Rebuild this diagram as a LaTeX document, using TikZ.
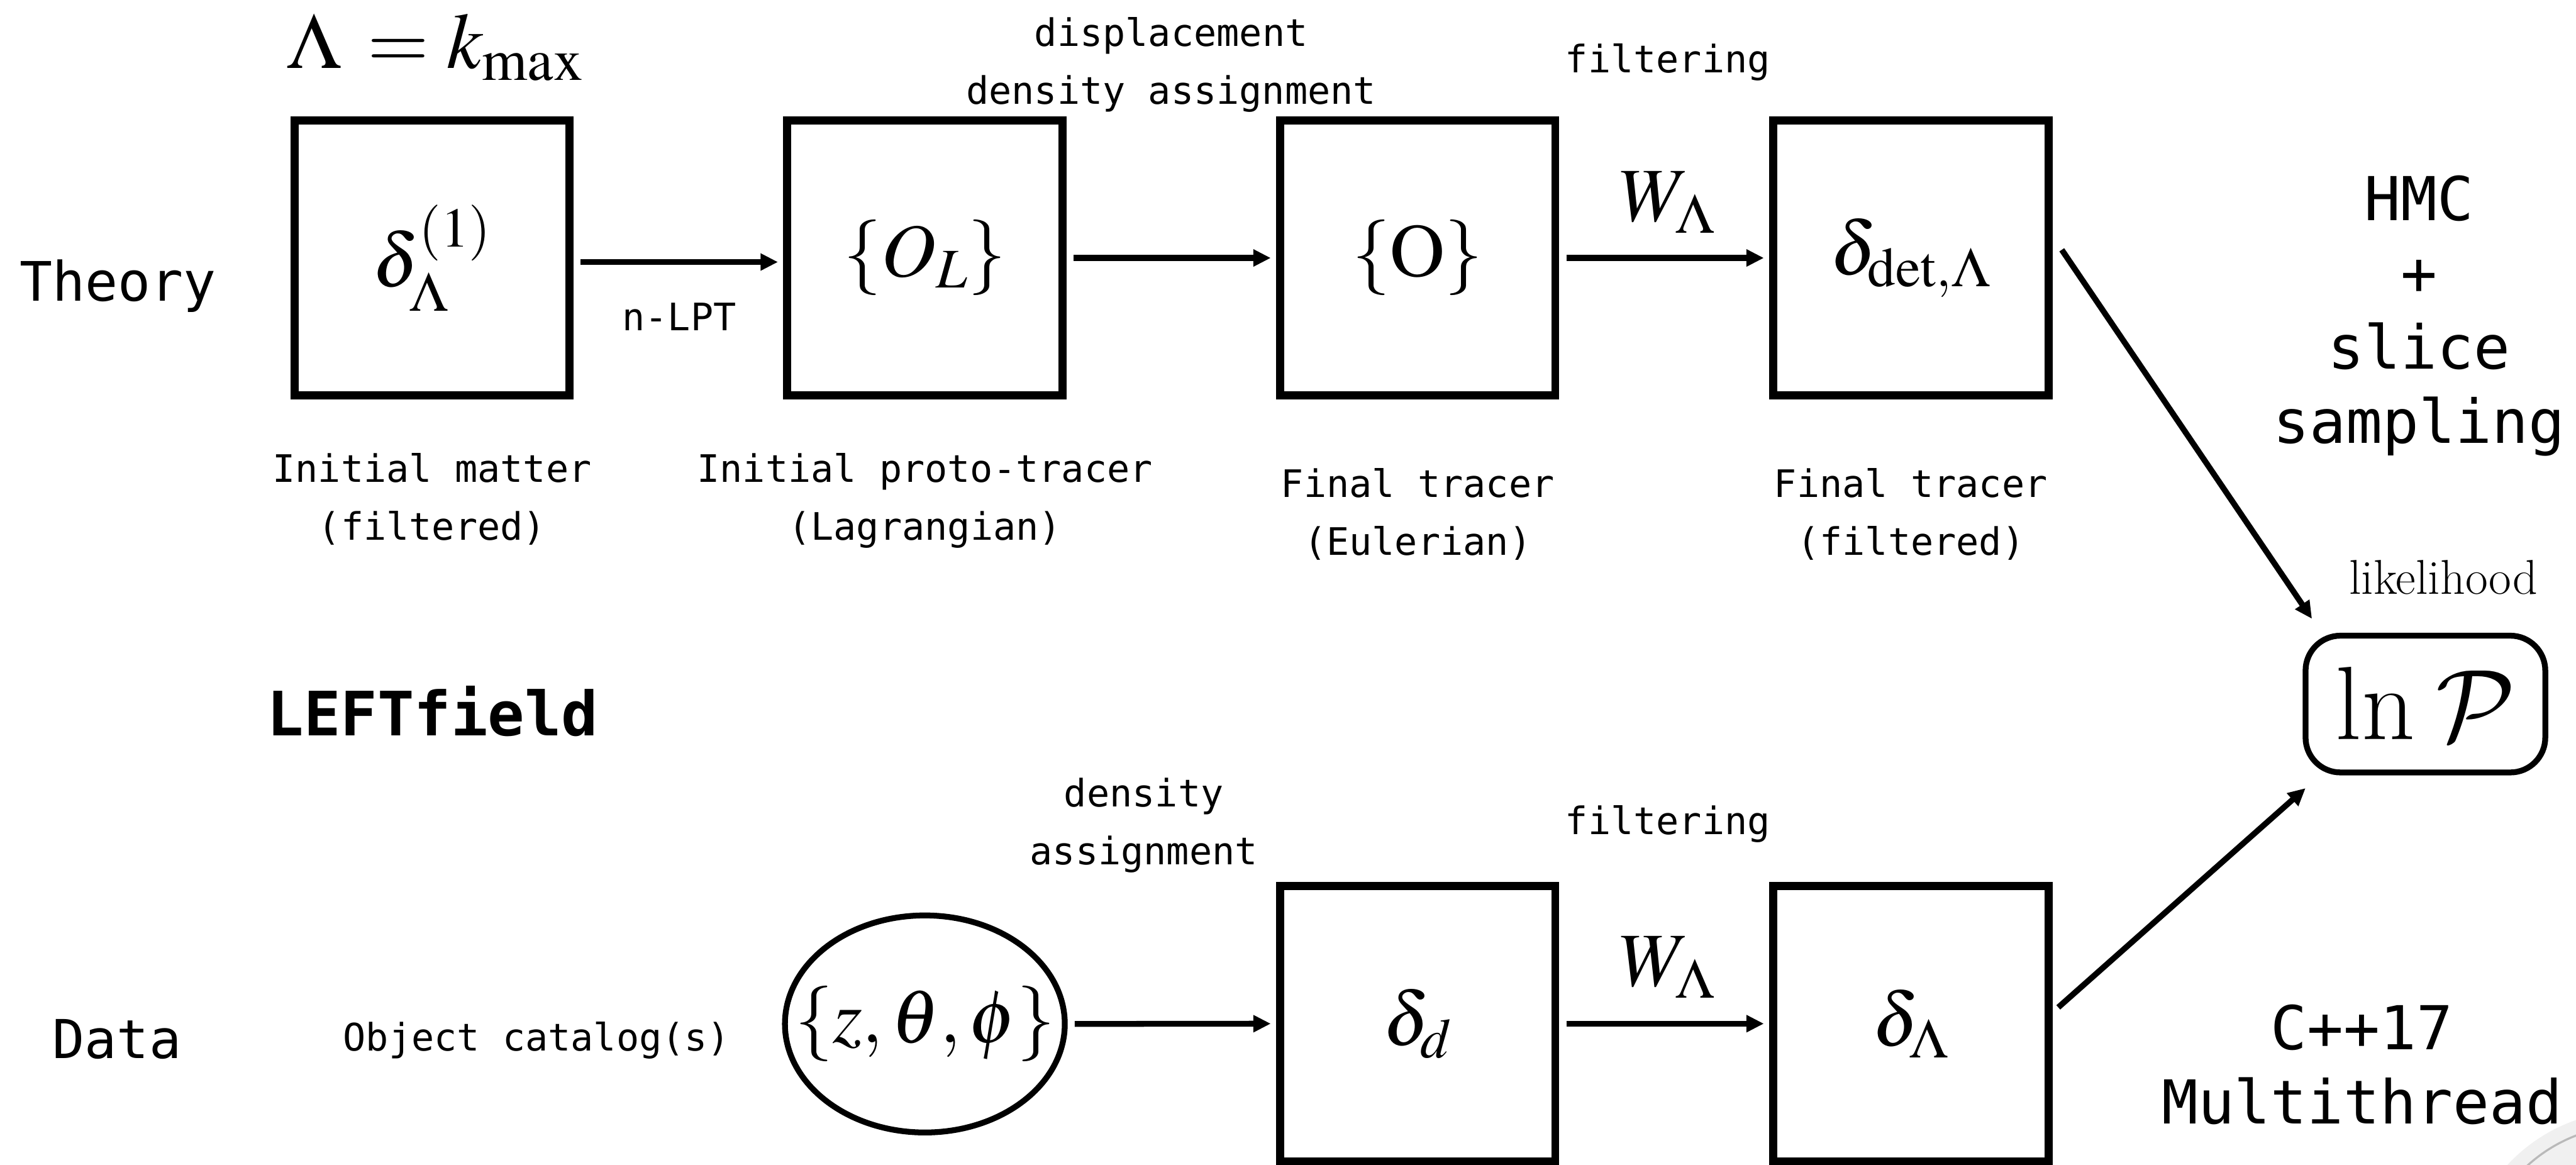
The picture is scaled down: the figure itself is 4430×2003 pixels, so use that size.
\documentclass[tikz,border=0pt]{standalone}
\usepackage{mathptmx}
\usepackage{graphicx}
\usepackage[no-math]{fontspec}
\setmonofont{DejaVu Sans Mono}
\renewcommand{\rmdefault}{lmr}
\DeclareMathAlphabet{\cmcal}{OMS}{cmsy}{m}{n}
\usetikzlibrary{arrows.meta,shapes.geometric}
\newcommand\twol[2]{\begin{tabular}[t]{@{}c@{}}#1\\#2\end{tabular}}
\newcommand\fourl[4]{\begin{tabular}[t]{@{}c@{}}#1\\#2\\#3\\#4\end{tabular}}
\tikzset{
  box/.style={draw, line width=3.98pt, minimum width=4.73cm, minimum height=4.73cm,
    inner sep=0pt, font=\fontsize{37}{44}\selectfont},
  arr/.style={line width=2.85pt, -{Triangle[length=0.30cm,width=0.28cm]},
    shorten <=0.12cm, shorten >=0.09cm},
  mathlbl/.style={inner sep=0pt, anchor=base, font=\fontsize{37.3}{44}\selectfont},
  lbl/.style={inner sep=0pt, anchor=base, font=\fontsize{18.5}{28.2}\selectfont\ttfamily},
  big/.style={inner sep=0pt, anchor=base, font=\fontsize{29.6}{36.3}\selectfont\ttfamily},
  side/.style={inner sep=0pt, anchor=base, font=\fontsize{26.6}{32}\selectfont\ttfamily},
}
\begin{document}
\begin{tikzpicture}[x=0.01cm,y=-0.01cm]
\useasboundingbox (0,0) rectangle (4430,2003);
\fill[white] (0,0) rectangle (4430,2003);

% faint decoration bottom right
\begin{scope}
\clip (0,0) rectangle (4430,2003);
\fill[gray!12] (4525,2200) circle[radius=2.9cm];
\draw[gray!55, line width=1pt] (4525,2200) circle[radius=2.65cm];
\end{scope}

% top row
\node[box] (b1) at (743,443.5) {$\delta^{(1)}_{\Lambda}$};
\node[box] (b2) at (1590.5,443.5) {$\{O_L\}$};
\node[box] (b3) at (2438,443.5) {$\{\mathrm{O}\}$};
\node[box] (b4) at (3286,443.5) {$\delta_{\mathrm{det},\Lambda}$};

% bottom row
\node[draw, ellipse, line width=2.85pt, minimum width=4.81cm, minimum height=3.73cm,
  inner sep=0pt, font=\fontsize{37}{44}\selectfont] (ell) at (1590.5,1760.5) {\makebox[0pt]{$\{z,\theta,\phi\}$}};
\node[box] (b5) at (2438,1760) {$\delta_d$};
\node[box] (b6) at (3286,1760) {$\delta_{\Lambda}$};

% likelihood
\node[draw, line width=2.85pt, rounded corners=0.6cm, minimum width=4.12cm, minimum height=2.35cm,
  inner sep=0pt, font=\fontsize{51}{60}\selectfont] (lnp) at (4171,1210.5)
  {ln\kern0.2em\raisebox{-0.02cm}{\resizebox{!}{1.2cm}{$\cmcal{P}$}}};
\node[inner sep=0pt, anchor=base, font=\fontsize{23.9}{28}\selectfont\rmfamily] (like) at (4202,1021) {likelihood};

% labels
\node[inner sep=0pt, anchor=base, font=\fontsize{38.7}{46}\selectfont] (lam) at (749,117) {$\Lambda\, = k_{\max}$};
\node[side] (theory) at (203,518) {Theory};
\node[side, font=\fontsize{26.2}{32}\selectfont\ttfamily] (data) at (201,1820) {Data};
\node[inner sep=0pt, anchor=base, font=\fontsize{29.9}{36}\selectfont\ttfamily\bfseries] (lf) at (744,1265) {LEFTfield};
\node[lbl] (cat) at (923,1807) {Object catalog(s)};
\node[lbl] (nlpt) at (1168,568) {n-LPT};
\node[lbl] (l1) at (743,829) {\twol{Initial matter}{(filtered)}};
\node[lbl] (l2) at (1590.5,829) {\twol{Initial proto-tracer}{(Lagrangian)}};
\node[lbl] (l3) at (2438,855) {\twol{Final tracer}{(Eulerian)}};
\node[lbl] (l4) at (3286,855) {\twol{Final tracer}{(filtered)}};
\node[lbl] (disp) at (2014,80) {\twol{displacement}{density assignment}};
\node[lbl] (filt1) at (2868,125) {filtering};
\node[mathlbl] (w1) at (2868,380) {$W_{\Lambda}$};
\node[lbl] (dens) at (1967,1387) {\twol{density}{assignment}};
\node[lbl] (filt2) at (2868,1435) {filtering};
\node[mathlbl] (w2) at (2868,1695) {$W_{\Lambda}$};
\node[big] (hmc) at (4160,379) {\fourl{HMC}{+}{slice}{sampling}};
\node[big] (cpp) at (4062,1804) {\twol{C++17}{Multithread}};

% connectors
\draw[arr] ([yshift=-0.07cm]b1.east) -- ([yshift=-0.07cm]b2.west);
\draw[arr] (b2.east) -- (b3.west);
\draw[arr] (b3.east) -- (b4.west);
\draw[arr] (ell.east) -- (b5.west);
\draw[arr] (b5.east) -- (b6.west);
\draw[arr, shorten <=0pt, shorten >=0pt] ([xshift=0.16cm,yshift=0.14cm]b4.east) -- ([xshift=0.16cm,yshift=0.24cm]lnp.north west);
\draw[arr, shorten <=0pt, shorten >=0pt] ([xshift=0.10cm,yshift=0.28cm]b6.east) -- ([xshift=0.05cm,yshift=-0.22cm]lnp.south west);
\end{tikzpicture}
\end{document}
